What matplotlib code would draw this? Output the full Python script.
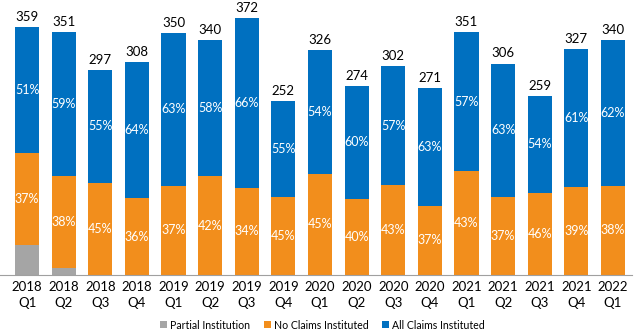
import matplotlib
matplotlib.use("Agg")
import matplotlib.pyplot as plt
import numpy as np

plt.rcParams['font.family'] = ['Lato', 'DejaVu Sans']

# quarters and totals
quarters = ['2018\nQ1', '2018\nQ2', '2018\nQ3', '2018\nQ4',
            '2019\nQ1', '2019\nQ2', '2019\nQ3', '2019\nQ4',
            '2020\nQ1', '2020\nQ2', '2020\nQ3', '2020\nQ4',
            '2021\nQ1', '2021\nQ2', '2021\nQ3', '2021\nQ4',
            '2022\nQ1']
totals = [359, 351, 297, 308, 350, 340, 372, 252, 326, 274, 302, 271, 351, 306, 259, 327, 340]

# shares in percent
pct_partial = [12, 3, 0, 0, 0, 0, 0, 0, 0, 0, 0, 0, 0, 0, 0, 0, 0]
pct_none = [37, 38, 45, 36, 37, 42, 34, 45, 45, 40, 43, 37, 43, 37, 46, 39, 38]
pct_all = [51, 59, 55, 64, 63, 58, 66, 55, 54, 60, 57, 63, 57, 63, 54, 61, 62]

c_gray = '#A5A5A5'
c_orange = '#F28E1C'
c_blue = '#0070C0'

tot = np.array(totals, dtype=float)
partial = tot * np.array(pct_partial) / 100
none = tot * np.array(pct_none) / 100
allc = tot - partial - none

x = np.arange(len(quarters))
w = 0.66

fig = plt.figure(figsize=(6.4, 3.35), dpi=100)
ax = fig.add_axes([0.0, 0.179, 0.988, 0.821])

ax.bar(x, partial, w, color=c_gray, label='Partial Institution')
ax.bar(x, none, w, bottom=partial, color=c_orange, label='No Claims Instituted')
ax.bar(x, allc, w, bottom=partial + none, color=c_blue, label='All Claims Instituted')

for i in x:
    ax.text(i, partial[i] + none[i] / 2, f'{pct_none[i]}%', ha='center', va='center',
            color='white', fontsize=9)
    ax.text(i, partial[i] + none[i] + allc[i] / 2, f'{pct_all[i]}%', ha='center', va='center',
            color='white', fontsize=9)
    ax.text(i, tot[i] + 6, str(totals[i]), ha='center', va='bottom', fontsize=9.5)

ax.set_xlim(-0.74, 16.53)
ax.set_ylim(0, 398)
ax.set_xticks(x)
ax.set_xticklabels(quarters, fontsize=9.5, linespacing=1.4)
ax.tick_params(axis='x', length=0, pad=4)
ax.set_yticks([])
for s in ['top', 'right', 'left']:
    ax.spines[s].set_visible(False)
ax.spines['bottom'].set_color('#A0A0A0')

ax.legend(loc='center', bbox_to_anchor=(0.51, -0.182), ncol=3, frameon=False,
          fontsize=7.6, handlelength=0.65, handleheight=0.65, handletextpad=0.3,
          columnspacing=1.3, borderaxespad=0)

fig.savefig('out.png', dpi=100)
